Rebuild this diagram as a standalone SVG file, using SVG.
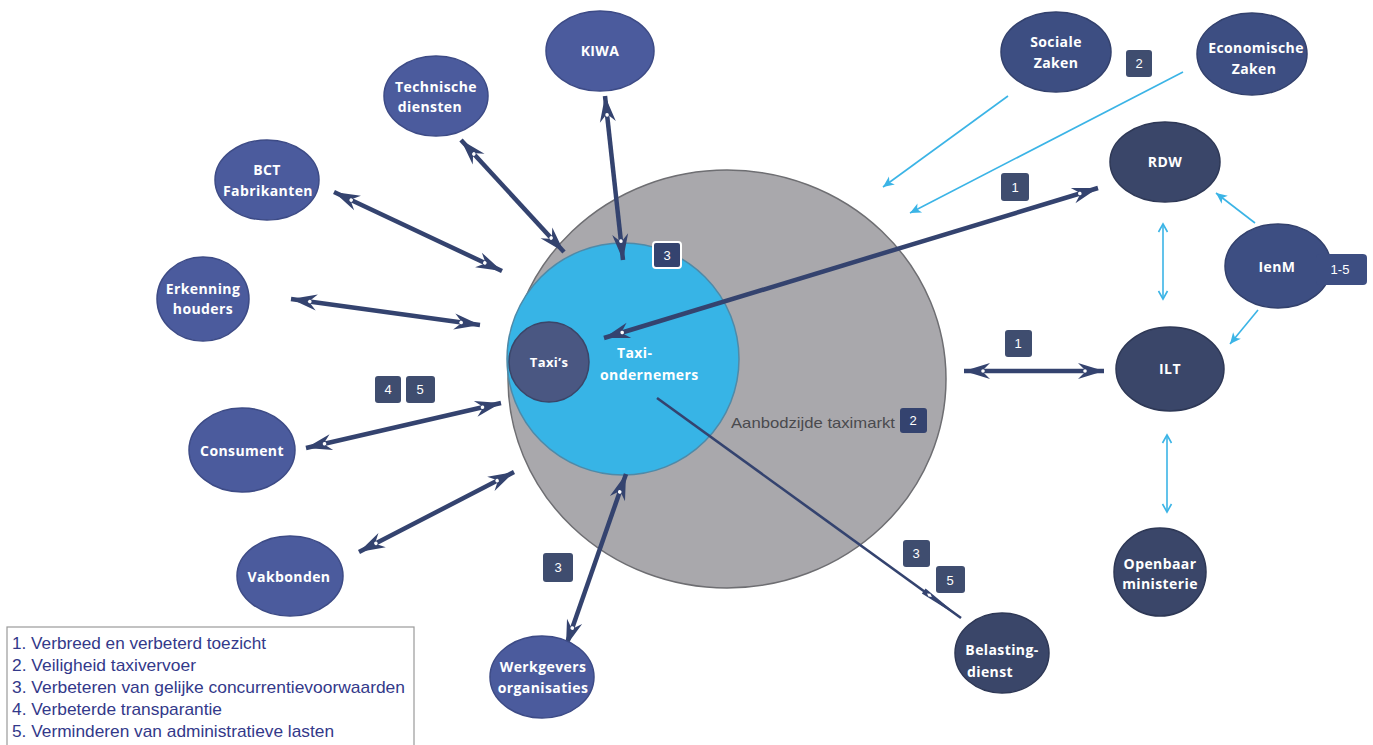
<svg xmlns="http://www.w3.org/2000/svg" width="1373" height="745" viewBox="0 0 1373 745">
  <defs>
    <style>
      .node-l { fill: #4b5b9d; stroke: #3d4b86; stroke-width: 1.5; }
      .node-m { fill: #3d4e82; stroke: #33416d; stroke-width: 1.5; }
      .node-d { fill: #3a4669; stroke: #2e3856; stroke-width: 1.5; }
      .lbl { font-family: "Open Sans", "Liberation Sans", sans-serif; font-weight: 700; font-size: 14px; fill: #ffffff; text-anchor: middle; letter-spacing: 0.4px; }
      .badge rect { fill: #3f4d6f; }
      .badge text { font-family: "Liberation Sans", sans-serif; font-size: 13px; fill: #ffffff; text-anchor: middle; }
      .thick { stroke: #34436f; stroke-width: 4.5; fill: none; }
      .light { stroke: #3bb4e6; stroke-width: 1.6; fill: none; }
      .legend { font-family: "Liberation Sans Narrow", "Liberation Sans", sans-serif; font-size: 17px; fill: #33398a; }
    </style>
    <!-- dark double-ended arrowhead with white dot -->
    <marker id="ah" markerUnits="userSpaceOnUse" markerWidth="32" markerHeight="22" viewBox="-28 -11 32 22" refX="0" refY="0" orient="auto-start-reverse">
      <path d="M0,0 L-26,-8 L-20,-2 L-20,2 L-26,8 Z" fill="#34436f"/>
      <circle cx="-19" cy="0" r="1.8" fill="#ffffff"/>
    </marker>
    <!-- long thin arrowhead -->
    <marker id="thin" markerUnits="userSpaceOnUse" markerWidth="50" markerHeight="12" viewBox="-48 -6 50 12" refX="0" refY="0" orient="auto">
      <path d="M0,0 L-46,-3.2 L-46,3.2 Z" fill="#34436f"/>
      <path d="M-42,0 L-39,-1.6 L-36,0 L-39,1.6 Z" fill="#ffffff"/>
    </marker>
    <!-- light blue arrowhead -->
    <marker id="lb" markerUnits="userSpaceOnUse" markerWidth="14" markerHeight="12" viewBox="-12 -6 14 12" refX="0" refY="0" orient="auto-start-reverse">
      <path d="M0,0 L-11,-5 L-8,0 L-11,5 Z" fill="#3bb4e6"/>
    </marker>
    <!-- open light blue arrowhead -->
    <marker id="lbo" markerUnits="userSpaceOnUse" markerWidth="14" markerHeight="12" viewBox="-12 -6 14 12" refX="0" refY="0" orient="auto-start-reverse">
      <path d="M-8,-4.5 L0,0 L-8,4.5" fill="none" stroke="#3bb4e6" stroke-width="1.6"/>
    </marker>
  </defs>

  <rect width="1373" height="745" fill="#ffffff"/>

  <!-- market circles -->
  <g id="aanbodzijde">
    <ellipse cx="727" cy="379" rx="219" ry="209" fill="#a9a8ac" stroke="#6e6e72" stroke-width="1.5"/>
    <text x="731" y="428" font-family="Liberation Sans Narrow, Liberation Sans, sans-serif" font-size="15" fill="#4a4a4e" textLength="164" lengthAdjust="spacingAndGlyphs">Aanbodzijde taximarkt</text>
  </g>
  <g id="taxiondernemers">
    <circle cx="623" cy="359" r="116" fill="#37b4e6" stroke="#4f8aa8" stroke-width="1.5"/>
    <text class="lbl" x="617" y="358" style="text-anchor:start">Taxi-</text>
    <text class="lbl" x="600" y="380" style="text-anchor:start">ondernemers</text>
  </g>
  <g id="taxis">
    <circle cx="549" cy="362" r="40" fill="#4a5782" stroke="#3b4568" stroke-width="1.5"/>
    <text class="lbl" x="549" y="367" style="font-size:13px">Taxi’s</text>
  </g>

  <!-- connectors -->
  <g id="connectors">
    <line class="thick" x1="605" y1="96" x2="623" y2="260" marker-start="url(#ah)" marker-end="url(#ah)"/>
    <line class="thick" x1="461" y1="140" x2="564" y2="252" marker-start="url(#ah)" marker-end="url(#ah)"/>
    <line class="thick" x1="334" y1="192" x2="502" y2="271" marker-start="url(#ah)" marker-end="url(#ah)"/>
    <line class="thick" x1="291" y1="299" x2="480" y2="325" marker-start="url(#ah)" marker-end="url(#ah)"/>
    <line class="thick" x1="306" y1="448" x2="501" y2="403" marker-start="url(#ah)" marker-end="url(#ah)"/>
    <line class="thick" x1="359" y1="552" x2="514" y2="472" marker-start="url(#ah)" marker-end="url(#ah)"/>
    <line class="thick" x1="566" y1="646" x2="626" y2="474" marker-start="url(#ah)" marker-end="url(#ah)"/>
    <line class="thick" x1="604" y1="338" x2="1098" y2="188" marker-start="url(#ah)" marker-end="url(#ah)"/>
    <line class="thick" x1="964" y1="371" x2="1104" y2="371" marker-start="url(#ah)" marker-end="url(#ah)"/>
    <line stroke="#34436f" stroke-width="2.6" x1="657" y1="398" x2="961" y2="618" marker-end="url(#thin)"/>

    <line class="light" x1="1008" y1="96" x2="883" y2="187" marker-end="url(#lb)"/>
    <line class="light" x1="1183" y1="72" x2="910" y2="213" marker-end="url(#lb)"/>
    <line class="light" x1="1255" y1="223" x2="1216" y2="193" marker-end="url(#lb)"/>
    <line class="light" x1="1258" y1="310" x2="1230" y2="344" marker-end="url(#lb)"/>
    <line class="light" x1="1163" y1="224" x2="1163" y2="299" marker-start="url(#lbo)" marker-end="url(#lbo)"/>
    <line class="light" x1="1167" y1="435" x2="1167" y2="512" marker-start="url(#lbo)" marker-end="url(#lbo)"/>
  </g>

  <!-- stakeholder nodes -->
  <g id="kiwa">
    <ellipse class="node-l" cx="600" cy="51" rx="54" ry="40"/>
    <text class="lbl" x="600" y="56">KIWA</text>
  </g>
  <g id="technische-diensten">
    <ellipse class="node-l" cx="436" cy="96" rx="52" ry="40"/>
    <text class="lbl" x="436" y="92">Technische</text>
    <text class="lbl" x="430" y="112">diensten</text>
  </g>
  <g id="bct-fabrikanten">
    <ellipse class="node-l" cx="267" cy="180" rx="52" ry="40"/>
    <text class="lbl" x="267" y="175">BCT</text>
    <text class="lbl" x="268" y="196">Fabrikanten</text>
  </g>
  <g id="erkenninghouders">
    <ellipse class="node-l" cx="203" cy="299" rx="46" ry="42"/>
    <text class="lbl" x="203" y="294">Erkenning</text>
    <text class="lbl" x="203" y="314">houders</text>
  </g>
  <g id="consument">
    <ellipse class="node-l" cx="242" cy="450" rx="53" ry="42"/>
    <text class="lbl" x="242" y="456">Consument</text>
  </g>
  <g id="vakbonden">
    <ellipse class="node-l" cx="290" cy="576" rx="53" ry="40"/>
    <text class="lbl" x="289" y="582">Vakbonden</text>
  </g>
  <g id="werkgevers">
    <ellipse class="node-l" cx="542" cy="677" rx="52" ry="41"/>
    <text class="lbl" x="543" y="672">Werkgevers</text>
    <text class="lbl" x="543" y="693">organisaties</text>
  </g>
  <g id="belastingdienst">
    <ellipse class="node-d" cx="1002" cy="653" rx="47" ry="40"/>
    <text class="lbl" x="1002" y="655">Belasting-</text>
    <text class="lbl" x="990" y="677">dienst</text>
  </g>
  <g id="openbaar-ministerie">
    <ellipse class="node-d" cx="1160" cy="572" rx="46" ry="44"/>
    <text class="lbl" x="1160" y="569">Openbaar</text>
    <text class="lbl" x="1160" y="589">ministerie</text>
  </g>
  <g id="ilt">
    <ellipse class="node-d" cx="1170" cy="369" rx="54" ry="42"/>
    <text class="lbl" x="1170" y="374">ILT</text>
  </g>
  <g id="rdw">
    <ellipse class="node-d" cx="1165" cy="162" rx="55" ry="40"/>
    <text class="lbl" x="1165" y="167">RDW</text>
  </g>
  <g id="ienm">
    <ellipse class="node-m" cx="1278" cy="266" rx="53" ry="42"/>
    <rect x="1316" y="254" width="51" height="31" rx="4" fill="#3d4e82"/>
    <text class="lbl" x="1277" y="272">IenM</text>
    <text x="1340" y="274" font-family="Liberation Sans, sans-serif" font-size="13" fill="#ffffff" text-anchor="middle">1-5</text>
  </g>
  <g id="sociale-zaken">
    <ellipse class="node-m" cx="1056" cy="52" rx="55" ry="40"/>
    <text class="lbl" x="1056" y="47">Sociale</text>
    <text class="lbl" x="1056" y="68">Zaken</text>
  </g>
  <g id="economische-zaken">
    <ellipse class="node-m" cx="1252" cy="54" rx="55" ry="41"/>
    <text class="lbl" x="1256" y="53">Economische</text>
    <text class="lbl" x="1254" y="74">Zaken</text>
  </g>

  <!-- goal badges -->
  <g class="badge">
    <rect x="1126" y="50" width="26" height="27" rx="3"/><text x="1139" y="68">2</text>
    <rect x="1001" y="173" width="28" height="28" rx="3"/><text x="1015" y="192">1</text>
    <rect x="1005" y="330" width="27" height="27" rx="3"/><text x="1018" y="348">1</text>
    <rect x="375" y="376" width="26" height="27" rx="3"/><text x="388" y="394">4</text>
    <rect x="406" y="376" width="29" height="27" rx="3"/><text x="420" y="394">5</text>
    <rect x="543" y="553" width="30" height="29" rx="3"/><text x="558" y="572">3</text>
    <rect x="903" y="540" width="27" height="27" rx="3"/><text x="916" y="558">3</text>
    <rect x="936" y="566" width="29" height="27" rx="3"/><text x="950" y="585">5</text>
    <rect x="900" y="408" width="27" height="25" rx="3" style="fill:#34436f"/><text x="913" y="425">2</text>
    <rect x="653" y="242" width="28" height="26" rx="3" style="fill:#34436f;stroke:#ffffff;stroke-width:2"/><text x="667" y="260">3</text>
  </g>

  <!-- legend -->
  <g id="legend">
    <rect x="7" y="627" width="407" height="122" fill="#ffffff" stroke="#9a9a9a" stroke-width="1.2"/>
    <text class="legend" x="12" y="649" textLength="254" lengthAdjust="spacingAndGlyphs">1. Verbreed en verbeterd toezicht</text>
    <text class="legend" x="12" y="671" textLength="184" lengthAdjust="spacingAndGlyphs">2. Veiligheid taxivervoer</text>
    <text class="legend" x="12" y="693" textLength="393" lengthAdjust="spacingAndGlyphs">3. Verbeteren van gelijke  concurrentievoorwaarden</text>
    <text class="legend" x="12" y="715" textLength="210" lengthAdjust="spacingAndGlyphs">4. Verbeterde transparantie</text>
    <text class="legend" x="12" y="737" textLength="322" lengthAdjust="spacingAndGlyphs">5. Verminderen van administratieve lasten</text>
  </g>
</svg>
